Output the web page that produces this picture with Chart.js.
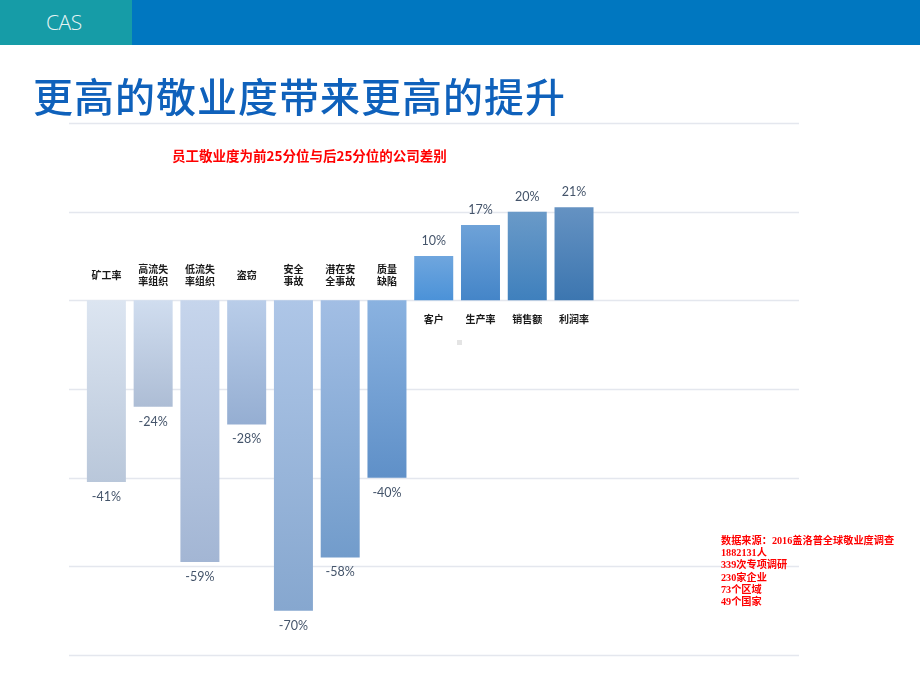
<!DOCTYPE html>
<html>
<head>
<meta charset="utf-8">
<script src="https://cdn.jsdelivr.net/npm/chart.js@4.4.1/dist/chart.umd.min.js"></script>
<style>
  html, body { margin: 0; padding: 0; background: #fff; }
  body { width: 920px; height: 690px; position: relative; overflow: hidden; font-family: "Noto Sans CJK SC", sans-serif; }
  .bar-teal { position: absolute; left: 0; top: 0; width: 132px; height: 45px; background: #169ca7; }
  .bar-blue { position: absolute; left: 132px; top: 0; width: 788px; height: 45px; background: #0077c0; }
  .cas { position: absolute; left: 46px; top: 8px; font-family: "Open Sans", sans-serif; font-weight: 300; font-size: 21px; letter-spacing: -0.5px; color: #e6f4f5; }
  .title { position: absolute; left: 33px; top: 66px; font-size: 40px; letter-spacing: 1px; font-weight: 500; color: #0f61bb; white-space: nowrap; }
  .sub { position: absolute; left: 172px; top: 145px; font-size: 13.5px; font-weight: 700; color: #ff0000; white-space: nowrap; }
  .src { position: absolute; left: 721px; top: 535px; font-family: "Liberation Serif", "Noto Sans CJK SC", serif; font-size: 10.2px; line-height: 12.2px; font-weight: 700; color: #ff0000; white-space: nowrap; }
  .dot { position: absolute; left: 457px; top: 340px; width: 5px; height: 5px; background: #e4e4e4; }
  #wrap { position: absolute; left: 0; top: 0; width: 920px; height: 690px; }
</style>
</head>
<body>
<div id="wrap"><canvas id="chart"></canvas></div>
<div class="bar-teal"></div>
<div class="bar-blue"></div>
<div class="cas">CAS</div>
<div class="title">更高的敬业度带来更高的提升</div>
<div class="sub">员工敬业度为前25分位与后25分位的公司差别</div>
<div class="src">数据来源：2016盖洛普全球敬业度调查<br>1882131人<br>339次专项调研<br>230家企业<br>73个区域<br>49个国家</div>
<div class="dot"></div>

<script>
// Data
const categories = [
    ['矿工率'], ['高流失', '率组织'], ['低流失', '率组织'], ['盗窃'], ['安全', '事故'],
    ['潜在安', '全事故'], ['质量', '缺陷'], ['客户'], ['生产率'], ['销售额'], ['利润率']
];
const values = [-41, -24, -59, -28, -70, -58, -40, 10, 17, 20, 21];
const yTicks = [40, 20, 0, -20, -40, -60, -80];

// gradient colours per bar (top, bottom)
const barTop = ['#dce5f1', '#d0ddef', '#c6d5ec', '#b9cde9', '#aec6e7', '#a2bee4', '#8ab2e0',
                '#6fa6de', '#6ea2d8', '#6a9ac8', '#6592c2'];
const barBottom = ['#b9c7da', '#adbdd5', '#a3b6d4', '#95aed2', '#86a7cf', '#729ccb', '#5f90c8',
                   '#4b92d8', '#4485c8', '#3f80bd', '#3c76b0'];

function barFill(c) {
    const chart = c.chart;
    const i = c.dataIndex;
    if (!chart.chartArea) return barTop[i];
    const y = chart.scales.y;
    const v = values[i];
    const top = y.getPixelForValue(Math.max(v, 0));
    const bottom = y.getPixelForValue(Math.min(v, 0));
    const g = chart.ctx.createLinearGradient(0, top, 0, bottom);
    g.addColorStop(0, barTop[i]);
    g.addColorStop(1, barBottom[i]);
    return g;
}

// gridlines wider than the plot area
const gridPlugin = {
    id: 'wideGrid',
    beforeDatasetsDraw(chart) {
        const { ctx } = chart;
        const y = chart.scales.y;
        ctx.save();
        ctx.strokeStyle = '#e4e7ee';
        ctx.lineWidth = 1.5;
        yTicks.forEach(t => {
            const py = Math.round(y.getPixelForValue(t)) + 0.5;
            ctx.beginPath();
            ctx.moveTo(69, py);
            ctx.lineTo(799, py);
            ctx.stroke();
        });
        ctx.restore();
    }
};

// value labels + category labels
const labelPlugin = {
    id: 'barLabels',
    afterDatasetsDraw(chart) {
        const { ctx } = chart;
        const meta = chart.getDatasetMeta(0);
        ctx.save();
        ctx.textAlign = 'center';
        ctx.textBaseline = 'middle';
        meta.data.forEach((bar, i) => {
            const v = values[i];
            ctx.font = '12.5px Lato, "Open Sans", sans-serif';
            ctx.fillStyle = '#44546a';
            const vy = v < 0 ? bar.y + 15 : bar.y - 15;
            ctx.fillText(v + '%', bar.x, vy);

            ctx.font = 'bold 10px "Noto Sans CJK SC", sans-serif';
            ctx.fillStyle = '#1a1a1a';
            const lines = categories[i];
            const n = lines.length;
            lines.forEach((line, k) => {
                let ly;
                if (v < 0) ly = bar.base - 25 + (k - (n - 1) / 2) * 12;
                else ly = bar.base + 19 + k * 12;
                ctx.fillText(line, bar.x, ly);
            });
        });
        ctx.restore();
    }
};

new Chart(document.getElementById('chart'), {
    type: 'bar',
    data: {
        labels: categories.map(c => c.join('')),
        datasets: [{
            data: values,
            backgroundColor: barFill,
            borderWidth: 0,
            barPercentage: 0.834,
            categoryPercentage: 1
        }]
    },
    options: {
        responsive: true,
        maintainAspectRatio: false,
        animation: false,
        layout: { padding: { left: 83, right: 322.6, top: 123, bottom: 35 } },
        scales: {
            x: { display: false },
            y: { display: false, min: -80, max: 40, ticks: { stepSize: 20 } }
        },
        plugins: {
            legend: { display: false },
            tooltip: { enabled: false }
        }
    },
    plugins: [gridPlugin, labelPlugin]
});
</script>
</body>
</html>
